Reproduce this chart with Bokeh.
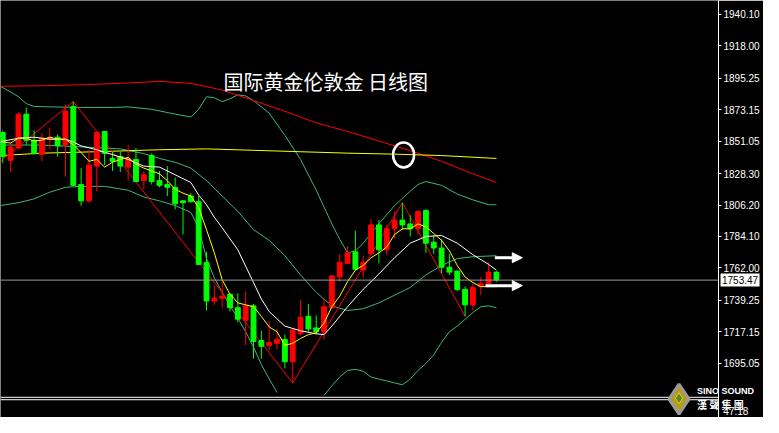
import math
from bokeh.plotting import figure
from bokeh.models import (Range1d, FixedTicker, PrintfTickFormatter, Span, Label,
                          Arrow, NormalHead, ColumnDataSource)
from bokeh.core.properties import value
from bokeh.embed import file_html
from bokeh.resources import INLINE

# ---------------- data ----------------
opens = [1857.1, 1837.5, 1846.3, 1870.0, 1851.7, 1841.6, 1852.4, 1853.8, 1848.4, 1875.4,
         1820.6, 1809.1, 1833.5, 1857.8, 1838.9, 1840.2, 1832.8, 1838.2, 1823.3, 1840.9,
         1823.3, 1820.6, 1818.6, 1809.1, 1812.5, 1808.5, 1765.9, 1738.8, 1740.8, 1743.6,
         1734.1, 1725.3, 1735.4, 1711.1, 1707.7, 1709.1, 1711.8, 1696.2, 1715.8, 1728.0,
         1719.9, 1717.2, 1734.1, 1755.7, 1765.2, 1773.3, 1760.5, 1772.0, 1792.2, 1774.7,
         1789.5, 1795.6, 1792.9, 1789.5, 1802.4, 1780.1, 1776.0, 1762.5, 1759.8, 1746.9,
         1736.1, 1749.0, 1751.0, 1759.1]
highs = [1858.5, 1849.7, 1871.3, 1874.7, 1858.5, 1856.5, 1860.5, 1855.8, 1876.8, 1878.8,
         1832.1, 1845.0, 1857.8, 1858.3, 1843.6, 1843.6, 1848.4, 1846.3, 1830.1, 1842.3,
         1830.1, 1833.5, 1825.4, 1809.8, 1814.5, 1812.5, 1773.3, 1749.6, 1752.3, 1744.0,
         1744.2, 1745.6, 1736.8, 1717.9, 1724.6, 1719.2, 1715.2, 1719.9, 1739.5, 1736.8,
         1728.7, 1740.8, 1757.0, 1771.9, 1777.4, 1788.2, 1770.6, 1796.3, 1795.6, 1792.2,
         1801.7, 1807.8, 1799.0, 1802.4, 1803.1, 1784.8, 1782.1, 1772.0, 1760.2, 1749.0,
         1751.0, 1755.7, 1765.9, 1759.8]
lows = [1835.5, 1829.4, 1845.0, 1848.4, 1841.6, 1836.9, 1845.0, 1840.2, 1826.0, 1819.5,
        1805.7, 1807.8, 1815.9, 1834.2, 1830.1, 1829.4, 1823.3, 1822.0, 1817.3, 1820.6,
        1818.6, 1812.5, 1803.1, 1785.5, 1807.8, 1764.0, 1732.1, 1736.1, 1734.1, 1731.4,
        1724.0, 1707.7, 1698.3, 1698.3, 1704.3, 1705.0, 1691.5, 1681.3, 1714.5, 1717.2,
        1715.2, 1711.8, 1733.4, 1752.3, 1765.0, 1760.5, 1755.0, 1771.5, 1765.2, 1771.3,
        1782.8, 1788.9, 1784.1, 1785.5, 1772.6, 1771.9, 1758.4, 1757.1, 1745.6, 1728.0,
        1732.1, 1742.9, 1750.6, 1752.3]
closes = [1840.2, 1847.0, 1870.0, 1851.7, 1842.3, 1853.1, 1853.8, 1847.7, 1872.0, 1820.0,
          1809.1, 1834.2, 1857.1, 1842.3, 1836.9, 1833.5, 1838.9, 1822.7, 1827.4, 1822.7,
          1820.0, 1818.6, 1807.1, 1807.8, 1808.5, 1764.5, 1738.8, 1740.8, 1742.2, 1734.1,
          1726.0, 1735.4, 1710.4, 1707.0, 1709.7, 1711.8, 1696.2, 1718.5, 1727.3, 1719.2,
          1717.2, 1734.8, 1756.4, 1765.9, 1772.6, 1761.1, 1765.9, 1792.2, 1774.7, 1789.5,
          1795.6, 1792.2, 1789.5, 1801.7, 1779.4, 1776.0, 1762.5, 1759.1, 1746.9, 1736.1,
          1748.3, 1751.0, 1759.1, 1753.47]

# long moving averages
red_ma_x = [-0.3, 5, 10, 15, 20, 24, 28, 32, 36, 40, 44, 48, 52, 56, 60, 63]
red_ma_y = [1889.6, 1889.9, 1890.6, 1891.6, 1893.0, 1891.6, 1886.9, 1879.5, 1872.0, 1863.9,
            1857.8, 1851.1, 1844.3, 1836.9, 1828.1, 1822.0]
ylong_ma_x = [-0.3, 5, 12, 16, 20, 26, 32, 38, 44, 50, 56, 63]
ylong_ma_y = [1840.9, 1842.6, 1843.6, 1844.3, 1845.0, 1845.6, 1844.6, 1843.6, 1842.6, 1841.9,
              1840.9, 1838.9]

# short moving averages
white_ma_x = [-0.3, 0, 2, 4, 6, 8, 9, 10, 12, 14, 16, 18, 20, 22, 24, 25, 26, 27, 28, 30, 32,
              33, 34, 36, 38, 40, 41, 42, 44, 46, 48, 50, 52, 54, 56, 58, 60, 62, 63]
white_ma_y = [1850.4, 1851.0, 1853.1, 1853.8, 1852.4, 1852.4, 1850.4, 1847.7, 1845.0, 1841.6,
              1838.2, 1833.5, 1832.8, 1827.4, 1822.0, 1813.2, 1806.4, 1797.6, 1790.2, 1774.7,
              1751.7, 1740.2, 1731.4, 1721.2, 1717.9, 1715.8, 1715.2, 1721.2, 1734.8, 1747.0,
              1757.8, 1769.2, 1779.4, 1784.1, 1784.8, 1779.4, 1771.3, 1764.5, 1760.5]
yshort_ma_y = [1850.4, 1849.7, 1853.1, 1853.1, 1851.1, 1851.7, 1853.8, 1852.4, 1852.4, 1848.4,
               1843.0, 1836.9, 1838.2, 1832.8, 1836.2, 1838.2, 1839.6, 1834.8, 1832.1, 1830.1,
               1828.1, 1823.3, 1817.3, 1814.5, 1812.5, 1804.4, 1788.9, 1772.6, 1753.7, 1743.6,
               1737.5, 1736.1, 1734.8, 1728.0, 1720.6, 1717.2, 1707.7, 1709.1, 1712.5, 1715.2,
               1716.5, 1723.3, 1734.8, 1742.2, 1752.4, 1760.5, 1763.8, 1769.2, 1772.6, 1776.7,
               1785.5, 1789.5, 1789.5, 1792.9, 1790.9, 1786.2, 1781.4, 1774.0, 1763.8, 1755.7,
               1751.7, 1748.9, 1748.9, 1748.9]

# Bollinger bands
upper_x = [-0.3, 1, 2, 3, 4, 6, 10, 14, 16, 19, 22, 24, 25, 26, 27, 28, 29, 30, 31, 32, 34,
           36, 38, 40, 42, 43, 44, 45, 46, 48, 50, 52, 53, 54, 56, 58, 60, 62, 63]
upper_y = [1889.6, 1885.5, 1882.2, 1877.4, 1875.4, 1875.1, 1874.7, 1874.7, 1875.1, 1873.4,
           1870.0, 1868.0, 1873.4, 1882.2, 1881.5, 1878.8, 1880.8, 1883.5, 1882.8, 1879.5,
           1870.7, 1855.1, 1838.2, 1816.6, 1792.9, 1782.1, 1772.6, 1774.0, 1779.4, 1793.0,
           1805.8, 1815.9, 1820.6, 1822.7, 1820.0, 1813.9, 1809.8, 1806.4, 1806.4]
mid_x = [-0.3, 5, 10, 15, 18, 20, 22, 24, 26, 28, 30, 32, 34, 36, 38, 40, 42, 44, 46, 48, 50,
         52, 54, 56, 58, 60, 63]
mid_y = [1848.3, 1848.3, 1847.0, 1845.6, 1842.3, 1838.9, 1836.2, 1832.1, 1823.3, 1812.5,
         1801.7, 1788.9, 1781.4, 1770.6, 1757.1, 1744.9, 1735.4, 1732.1, 1733.4, 1737.5,
         1742.9, 1748.3, 1757.1, 1763.8, 1768.6, 1769.9, 1770.6]
lower_x = [-0.3, 2, 4, 6, 8, 10, 13, 16, 18, 20, 22, 24, 25, 26, 27, 28, 29, 30, 31, 32, 33,
           34, 35, 38, 41, 42, 43, 44, 45, 46, 47, 48, 49, 50, 51, 52, 53, 54, 55, 56, 57, 58,
           59, 60, 61, 62, 63]
lower_y = [1805.8, 1807.8, 1810.5, 1815.2, 1818.6, 1819.3, 1819.3, 1816.6, 1811.8, 1809.1,
           1805.8, 1801.0, 1790.2, 1768.6, 1755.0, 1744.9, 1735.4, 1726.7, 1717.2, 1706.4,
           1694.2, 1684.1, 1674.6, float("nan"), 1672.6, 1679.3, 1685.4, 1690.1, 1690.8,
           1689.5, 1685.4, 1684.0, 1682.7, 1681.3, 1680.0, 1684.0, 1690.1, 1694.9, 1701.0,
           1709.8, 1717.2, 1721.2, 1726.0, 1730.7, 1734.8, 1735.4, 1734.1]

# zigzag
zig_x = [-0.3, 9, 37, 51, 59]
zig_y = [1836.9, 1878.8, 1681.3, 1807.8, 1728.0]

# axis ticks
tick_values = [1940.10, 1918.00, 1895.25, 1873.15, 1851.05, 1828.30, 1806.20, 1784.10,
               1762.00, 1739.25, 1717.15, 1695.05]
last_price = 1753.47
sub_value = "47.18"
title_text = "国际黄金伦敦金 日线图"
logo_en = "SINO SOUND"
logo_zh = "漢 聲 集 團"

# annotation positions (index / price units)
circle_x, circle_y = 51.15, 1841.3
arrow1 = (62.8, 66.3, 1769.2)
arrow2 = (61.6, 66.3, 1749.6)
pane_sep = [1671.2, 1669.5]
tag_x = 94.09
logo_x, logo_y = 86.3, 1669.9
logo_text_x, logo_en_y, logo_zh_y = 88.6, 1675.6, 1665.8
sub_x, sub_y = 91.96, 1661.8

# ---------------- figure ----------------
W, H = 763, 417
p = figure(width=W, height=H, output_backend="svg", toolbar_location=None,
           x_range=Range1d(-0.29, 91.34), y_range=Range1d(1657.02, 1949.77),
           x_axis_location=None, y_axis_location="right",
           background_fill_color="black", border_fill_color="black",
           min_border_left=0, min_border_top=0, min_border_bottom=0, min_border_right=45)
p.outline_line_color = None
p.xgrid.visible = False
p.ygrid.visible = False

ax = p.yaxis[0]
ax.ticker = FixedTicker(ticks=tick_values)
ax.formatter = PrintfTickFormatter(format="%.2f")
ax.axis_line_color = "white"
ax.axis_line_width = 1
ax.major_tick_line_color = "white"
ax.major_tick_out = 3
ax.major_tick_in = 0
ax.minor_tick_line_color = None
ax.major_label_text_color = "white"
ax.major_label_text_font = "Liberation Sans"
ax.major_label_text_font_size = "10px"
ax.major_label_standoff = 2

# pane separators and current price line
for loc in pane_sep:
    p.add_layout(Span(location=loc, dimension="width", line_color="white", line_width=1))
p.add_layout(Span(location=last_price, dimension="width", line_color="#9a9a9a", line_width=1))

# indicator lines
GREEN_BAND = "#3cb878"
p.line(upper_x, upper_y, line_color=GREEN_BAND, line_width=1)
p.line(mid_x, mid_y, line_color=GREEN_BAND, line_width=1)
p.line(lower_x, lower_y, line_color=GREEN_BAND, line_width=1)
p.line(red_ma_x, red_ma_y, line_color="#ff0000", line_width=1)
p.line(ylong_ma_x, ylong_ma_y, line_color="#ffff00", line_width=1)
p.line(zig_x, zig_y, line_color="#ff0000", line_width=1)

# candles
idx = list(range(len(opens)))
cols = ["#ff0000" if c >= o else "#00ff00" for o, c in zip(opens, closes)]
src = ColumnDataSource(dict(x=idx, o=opens, h=highs, l=lows, c=closes, col=cols,
                            top=[max(o, c) for o, c in zip(opens, closes)],
                            bot=[min(o, c) for o, c in zip(opens, closes)]))
p.segment(x0="x", y0="l", x1="x", y1="h", line_color="col", line_width=1, source=src)
p.vbar(x="x", top="top", bottom="bot", width=0.62, fill_color="col", line_color="col",
       line_width=1, source=src)

p.line(white_ma_x, white_ma_y, line_color="white", line_width=1)
p.line(idx, yshort_ma_y, line_color="#ffff00", line_width=1)

# circle marker
p.ellipse(x=[circle_x], y=[circle_y], width=21, height=25, width_units="screen",
          height_units="screen", fill_color=None, line_color="white", line_width=2.5)

# arrows
for x0, x1, yv in (arrow1, arrow2):
    p.add_layout(Arrow(end=NormalHead(size=10, fill_color="white", line_color="white"),
                       x_start=x0, y_start=yv, x_end=x1, y_end=yv,
                       line_color="white", line_width=3))

# title
p.add_layout(Label(x=223, y=336, x_units="screen", y_units="screen", text=title_text,
                   text_font="Noto Sans CJK SC", text_font_size="20px", text_color="white",
                   text_baseline="middle"))

# current price tag (drawn at overlay level so it may sit over the axis area)
p.rect(x=[tag_x], y=[last_price], width=39, height=13, width_units="screen",
       height_units="screen", fill_color="white", line_color=None, level="overlay")
p.text(x=[tag_x], y=[last_price], text=[f"{last_price:.2f}"], text_font=value("Liberation Sans"),
       text_font_size="10px", text_color="black", text_align="center",
       text_baseline="middle", level="overlay")

# sub-pane value
p.text(x=[sub_x], y=[sub_y], text=[sub_value], text_font=value("Liberation Sans"),
       text_font_size="10px", text_color="white", text_baseline="middle", level="overlay")

# logo
p.scatter(x=[logo_x], y=[logo_y], marker="diamond", size=30, fill_color="#b89a1e",
          line_color="#9a9a9a", line_width=3, level="overlay")
p.scatter(x=[logo_x], y=[logo_y + 0.7], marker="diamond", size=11, fill_color="#5a8a1a",
          line_color="#d8d040", line_width=1, level="overlay")
p.text(x=[logo_text_x], y=[logo_en_y], text=[logo_en], text_font=value("Liberation Sans"),
       text_font_size="9px", text_font_style="bold", text_color="white",
       text_baseline="middle", level="overlay")
p.text(x=[logo_text_x], y=[logo_zh_y], text=[logo_zh], text_font=value("Noto Sans CJK TC"),
       text_font_size="10px", text_font_style="bold", text_color="white",
       text_baseline="middle", level="overlay")

open("out.html", "w").write(file_html(p, INLINE))
